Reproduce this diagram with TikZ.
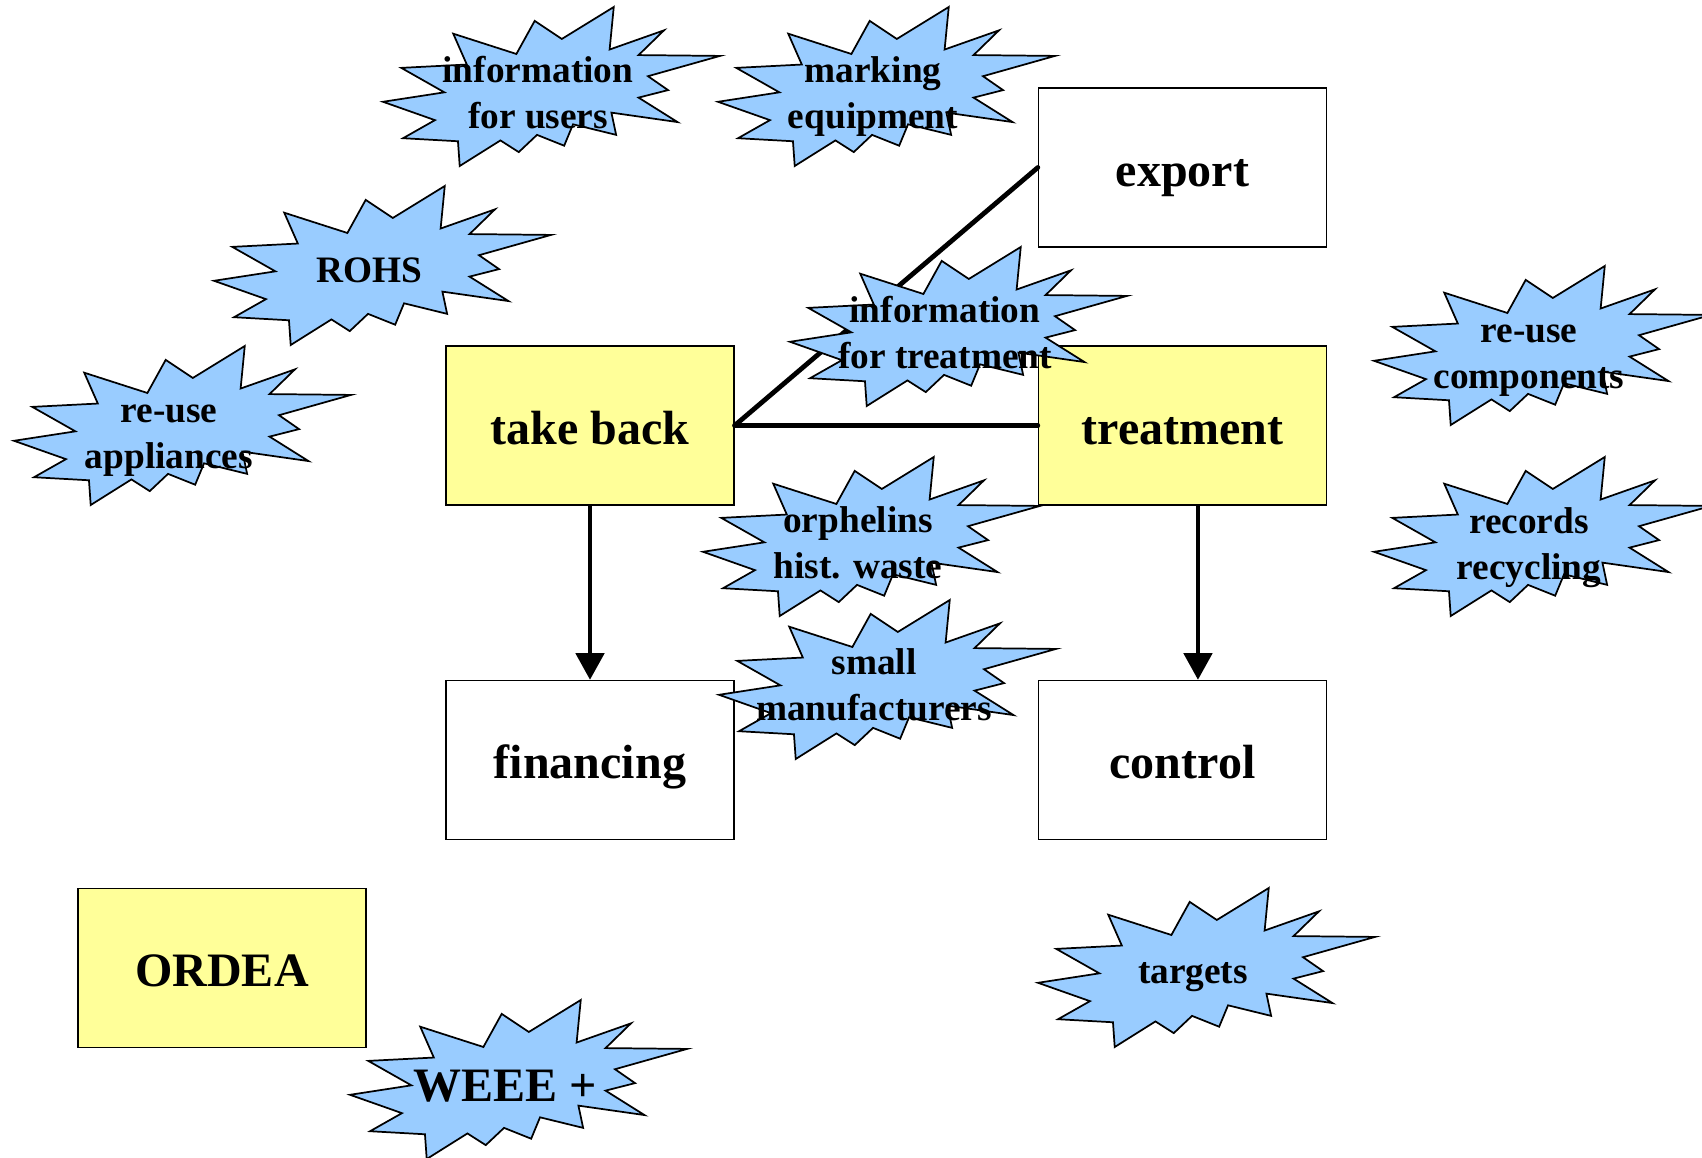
\documentclass[tikz,border=0pt]{standalone}
\usepackage{fontspec}
\setmainfont{Liberation Serif}
\usetikzlibrary{arrows.meta}
\definecolor{boxyellow}{HTML}{FFFF99}
\definecolor{sealblue}{HTML}{99CCFF}
\newcommand\boxfont{\fontsize{36}{41}\selectfont\bfseries}
\newcommand\sealfont{\fontsize{28}{34.5}\selectfont\bfseries}
\tikzset{
  boxw/.style={draw=black, line width=1pt, fill=white, minimum width=216pt, minimum height=119.25pt,
    inner sep=0pt, font=\boxfont, text height=30.5pt, text depth=2.5pt},
  boxy/.style={boxw, fill=boxyellow},
  sealstyle/.style={fill=sealblue, draw=black, line width=1.3pt, line join=miter},
  sealtext/.style={anchor=base, inner sep=0pt, font=\sealfont},
  thickline/.style={draw=black, line width=3.6pt, line cap=round},
  arrowline/.style={draw=black, line width=3.6pt, -{Triangle[width=21pt,length=20pt]}}
}
\newcommand\sealshape[5]{%
  \begin{scope}[shift={(#2,#3)},xscale=1.5602,yscale=0.7361]
    \filldraw[sealstyle] (114.62,43.42) -- (147.90,0) -- (145.25,57.77) -- (180.07,31.72)
      -- (163.80,65.32) -- (216,66.45) -- (169.85,94.02) -- (182.70,112.90) -- (163.80,123.10)
      -- (188.77,156.32) -- (146.40,143.50) -- (149.42,173.70) -- (121.80,159.35)
      -- (116.12,188.42) -- (98.72,173.70) -- (87,197.12) -- (75.27,181.25) -- (49.17,216)
      -- (48.05,182.40) -- (12.85,178.25) -- (33.30,153.70) -- (0,128.77) -- (39.35,115.92)
      -- (11.72,82.70) -- (53.72,78.17) -- (45.02,36.25) -- (85.50,63.82) -- (97.22,18.87) -- cycle;
  \end{scope}
  \node[sealtext] (#1) at ({#2+155},{#3+#4}) {#5};
}
\newcommand\twolines[2]{\begin{tabular}[t]{@{}c@{}}#1\\#2\end{tabular}}
\begin{document}
\begin{tikzpicture}[x=0.75pt,y=-0.75pt]
\useasboundingbox (0,0) rectangle (1702,1157);
\fill[white] (0,0) rectangle (1702,1157);
% boxes
\node[boxw] (export) at (1182.5,167.5) {export};
\node[boxy] (takeback) at (590,425.5) {take back};
\node[boxy] (treatment) at (1182.5,425.5) {treatment};
\node[boxw] (financing) at (590,760) {financing};
\node[boxw] (control) at (1182.5,760) {control};
\node[boxy] (ordea) at (222,968) {ORDEA};
% connectors
\draw[thickline] (takeback.east) -- (export.west);
\draw[thickline] (takeback.east) -- (treatment.west);
\draw[arrowline] (takeback.south) -- (financing.north);
\draw[arrowline] ([xshift=11.6pt]treatment.south) -- ([xshift=11.6pt]control.north);
% starbursts
\sealshape{infousers}{383}{7}{75}{\twolines{information}{for users}}
\sealshape{marking}{718}{7}{75}{\twolines{marking}{equipment}}
\sealshape{rohs}{214}{186}{96}{ROHS}
\sealshape{reuseapp}{14}{346}{76}{\twolines{re-use}{appliances}}
\sealshape{infotreat}{790}{247}{75}{\twolines{information}{for treatment}}
\sealshape{reusecomp}{1374}{266}{76}{\twolines{re-use}{components}}
\sealshape{records}{1374}{457}{76}{\twolines{records}{recycling}}
\sealshape{orphelins}{703}{457}{75}{\twolines{orphelins}{hist. waste}}
\sealshape{small}{719}{600}{74}{\twolines{small}{manufacturers}}
\sealshape{targets}{1038}{888}{95}{targets}
\sealshape{weee}{350}{1000}{101}{\boxfont WEEE +}
\end{tikzpicture}
\end{document}
